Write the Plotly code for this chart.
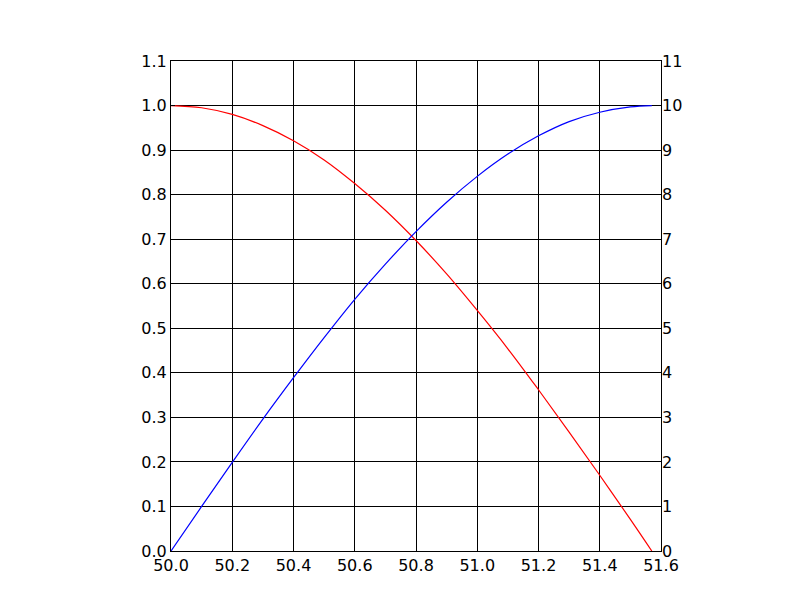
import plotly.graph_objects as go

x_vals = [50.0, 50.1, 50.2, 50.3, 50.4, 50.5, 50.6, 50.7, 50.8, 50.9,
          51.0, 51.1, 51.2, 51.3, 51.4, 51.5, 51.57]
red_vals = [1.0, 0.995, 0.980, 0.955, 0.921, 0.878, 0.825, 0.765, 0.697, 0.622,
            0.540, 0.454, 0.362, 0.267, 0.170, 0.071, 0.0]
blue_vals = [0.0, 1.0, 1.99, 2.96, 3.89, 4.79, 5.65, 6.44, 7.17, 7.83,
             8.41, 8.91, 9.32, 9.64, 9.85, 9.97, 10.0]

font = dict(family="DejaVu Sans", size=16, color="black")

fig = go.Figure()
fig.add_trace(go.Scatter(x=x_vals, y=red_vals, mode="lines",
                         line=dict(color="red", width=1.2, shape="spline"),
                         yaxis="y", showlegend=False))
fig.add_trace(go.Scatter(x=x_vals, y=blue_vals, mode="lines",
                         line=dict(color="blue", width=1.2, shape="spline"),
                         yaxis="y2", showlegend=False))

fig.update_layout(
    width=812, height=612,
    margin=dict(l=171, r=151, t=61, b=61),
    paper_bgcolor="white", plot_bgcolor="white",
    font=font,
    xaxis=dict(range=[50, 51.6], dtick=0.2, tick0=50, tickformat=".1f",
               showgrid=True, gridcolor="black", gridwidth=0.6,
               showline=True, linecolor="black", linewidth=1, mirror=True,
               ticks="inside", ticklen=4, tickcolor="black",
               zeroline=False, tickfont=font),
    yaxis=dict(range=[0, 1.1], dtick=0.1, tick0=0, tickformat=".1f",
               showgrid=True, gridcolor="black", gridwidth=0.6,
               showline=True, linecolor="black", linewidth=1, mirror=True,
               ticks="inside", ticklen=4, tickcolor="black",
               zeroline=False, tickfont=font),
    yaxis2=dict(range=[0, 11], dtick=1, tick0=0, overlaying="y", side="right",
                showgrid=False, zeroline=False, showline=False,
                ticks="inside", ticklen=4, tickcolor="black", tickfont=font),
)

fig.write_html("out.html")
